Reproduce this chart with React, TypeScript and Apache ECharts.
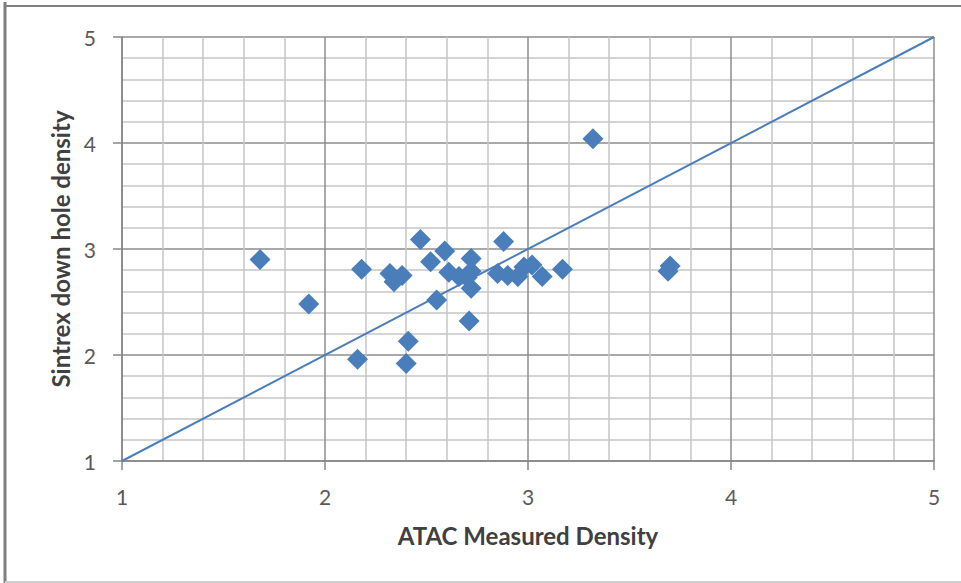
import React, { useEffect, useRef } from "react";
import * as echarts from "echarts";

const xValues = [1.68, 1.92, 2.18, 2.16, 2.32, 2.34, 2.38, 2.41, 2.40, 2.47, 2.52, 2.55, 2.59, 2.61, 2.66, 2.70, 2.71, 2.72, 2.72, 2.72, 2.85, 2.88, 2.90, 2.95, 2.98, 3.02, 3.07, 3.17, 3.32, 3.69, 3.70];
const yValues = [2.90, 2.48, 2.81, 1.96, 2.77, 2.69, 2.75, 2.13, 1.92, 3.09, 2.88, 2.52, 2.98, 2.78, 2.74, 2.73, 2.32, 2.91, 2.79, 2.63, 2.77, 3.07, 2.75, 2.74, 2.83, 2.85, 2.74, 2.81, 4.04, 2.79, 2.84];
const lineX = [1, 5];
const lineY = [1, 5];
const xTitle = "ATAC Measured Density";
const yTitle = "Sintrex down hole density";

const BLUE = "#4a7ebb";
const FONT = "Lato, 'Open Sans', sans-serif";

export default function App() {
  const ref = useRef<HTMLDivElement>(null);
  useEffect(() => {
    const chart = echarts.init(ref.current!, null, { renderer: "svg" });
    const axisCommon = {
      type: "value" as const,
      min: 1,
      max: 5,
      interval: 1,
      axisLine: { show: true, onZero: false, lineStyle: { color: "#868686", width: 1.5 } },
      axisTick: { show: true, length: 9, lineStyle: { color: "#868686", width: 1.5 } },
      axisLabel: { color: "#595959", fontSize: 21, fontFamily: FONT },
      splitLine: { show: true, lineStyle: { color: "#8c8c8c", width: 1.5 } },
      minorTick: { show: false, splitNumber: 5 },
      minorSplitLine: { show: true, lineStyle: { color: "#c6c6c6", width: 1.5 } },
      nameTextStyle: { color: "#404040", fontSize: 24, fontWeight: "bold" as const, fontFamily: FONT },
    };
    chart.setOption({
      animation: false,
      backgroundColor: "#ffffff",
      grid: { left: 122, top: 37, right: 27, bottom: 122 },
      graphic: [
        { type: "line", shape: { x1: 5, y1: 2, x2: 5, y2: 583 }, style: { stroke: "#7f7f7f", lineWidth: 3 } },
        { type: "line", shape: { x1: 5, y1: 6, x2: 961, y2: 6 }, style: { stroke: "#7f7f7f", lineWidth: 2 } },
        { type: "line", shape: { x1: 5, y1: 582, x2: 961, y2: 582 }, style: { stroke: "#cfcfcf", lineWidth: 2 } },
      ],
      xAxis: {
        ...axisCommon,
        name: xTitle,
        nameLocation: "middle",
        nameGap: 62,
        axisLabel: { ...axisCommon.axisLabel, margin: 25 },
      },
      yAxis: {
        ...axisCommon,
        name: yTitle,
        nameLocation: "middle",
        nameGap: 48,
        axisLabel: { ...axisCommon.axisLabel, margin: 26 },
      },
      series: [
        {
          type: "line",
          data: lineX.map((x, i) => [x, lineY[i]]),
          showSymbol: false,
          symbol: "none",
          lineStyle: { color: BLUE, width: 2 },
          z: 2,
        },
        {
          type: "scatter",
          data: xValues.map((x, i) => [x, yValues[i]]),
          symbol: "diamond",
          symbolSize: 21,
          itemStyle: { color: BLUE, opacity: 1 },
          z: 3,
        },
      ],
    });
    return () => chart.dispose();
  }, []);
  return <div ref={ref} style={{ position: "fixed", left: 0, top: 0, width: 961, height: 583 }} />;
}
